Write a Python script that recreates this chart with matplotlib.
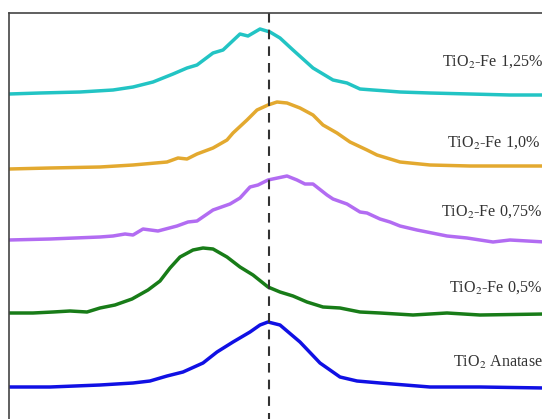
import matplotlib
matplotlib.use("Agg")
import matplotlib.pyplot as plt

plt.rcParams['font.family'] = ['Liberation Serif', 'DejaVu Serif']
plt.rcParams['mathtext.fontset'] = 'stix'

# spectra, stacked with offsets (x = shift, arbitrary units; y = offset intensity)
cyan_x = [9, 40, 80, 113, 133, 153, 173, 187, 197, 213, 223, 240, 248, 260, 270, 280, 293, 313,
          333, 347, 360, 373, 387, 400, 430, 470, 510, 545]
cyan_y = [325, 326, 327, 329, 332, 337, 345, 351, 354, 366, 369, 385, 383, 390, 387, 381, 369, 351,
          339, 336, 330, 329, 328, 327, 326, 325, 324, 324]

orange_x = [9, 50, 100, 133, 167, 178, 187, 197, 213, 227, 233, 247, 257, 268, 277, 287, 300, 313,
            323, 337, 350, 367, 377, 400, 430, 470, 545]
orange_y = [250, 251, 252, 254, 257, 261, 260, 265, 271, 279, 286, 299, 309, 314, 317, 316, 311, 304,
            294, 286, 277, 269, 264, 257, 254, 253, 253]

purple_x = [9, 50, 100, 113, 125, 133, 143, 158, 177, 188, 197, 213, 230, 240, 250, 258, 268, 287,
            297, 305, 313, 327, 333, 347, 360, 367, 380, 390, 400, 417, 447, 467, 493, 510, 545]
purple_y = [179, 180, 182, 183, 185, 184, 190, 188, 193, 197, 198, 209, 215, 221, 232, 234, 239, 243,
            239, 235, 235, 224, 220, 215, 207, 206, 200, 197, 193, 189, 183, 181, 177, 179, 177]

green_x = [9, 33, 53, 70, 87, 100, 115, 132, 148, 160, 170, 180, 193, 203, 213, 227, 240, 253, 268,
           280, 293, 307, 323, 340, 360, 380, 413, 447, 480, 545]
green_y = [106, 106, 107, 108, 107, 111, 114, 120, 129, 138, 151, 162, 169, 171, 170, 162, 152, 144,
           132, 127, 123, 117, 112, 111, 107, 106, 104, 106, 104, 105]

blue_x = [9, 50, 100, 133, 150, 167, 183, 203, 217, 233, 250, 260, 268, 280, 300, 320, 340, 357,
          380, 430, 480, 545]
blue_y = [32, 32, 34, 36, 38, 43, 47, 56, 67, 77, 87, 94, 97, 94, 77, 56, 42, 38, 36, 32, 32, 31]

labels = ["TiO$_2$-Fe 1,25%", "TiO$_2$-Fe 1,0%", "TiO$_2$-Fe 0,75%", "TiO$_2$-Fe 0,5%", "TiO$_2$ Anatase"]
label_x = [442, 447, 441, 449, 453]
label_y = [357, 276, 207, 131, 57]
peak_pos = 269

fig = plt.figure(figsize=(5.42, 4.19), dpi=100)
ax = fig.add_axes([9 / 542, 0, 533 / 542, 406 / 419])

series = [(cyan_x, cyan_y, "#22C4C4"), (orange_x, orange_y, "#E3A92F"),
          (purple_x, purple_y, "#B26CF2"), (green_x, green_y, "#187C18"),
          (blue_x, blue_y, "#1010E4")]
for xs, ys, c in series:
    ax.plot(xs, ys, color=c, lw=2.5, solid_capstyle='round', solid_joinstyle='round')

ax.plot([peak_pos, peak_pos], [406, 0], color="#333333", lw=1.5, dashes=(4.6, 3.4))

for t, x, y in zip(labels, label_x, label_y):
    ax.text(x, y, t, fontsize=11.6, color="#333333", ha='left', va='center')

ax.set_xlim(9, 542)
ax.set_ylim(0, 406)
ax.set_xticks([])
ax.set_yticks([])
for s in ['bottom', 'right']:
    ax.spines[s].set_visible(False)
for s in ['left', 'top']:
    ax.spines[s].set_color("#444444")
    ax.spines[s].set_linewidth(1.2)

fig.savefig("out.png", dpi=100)
